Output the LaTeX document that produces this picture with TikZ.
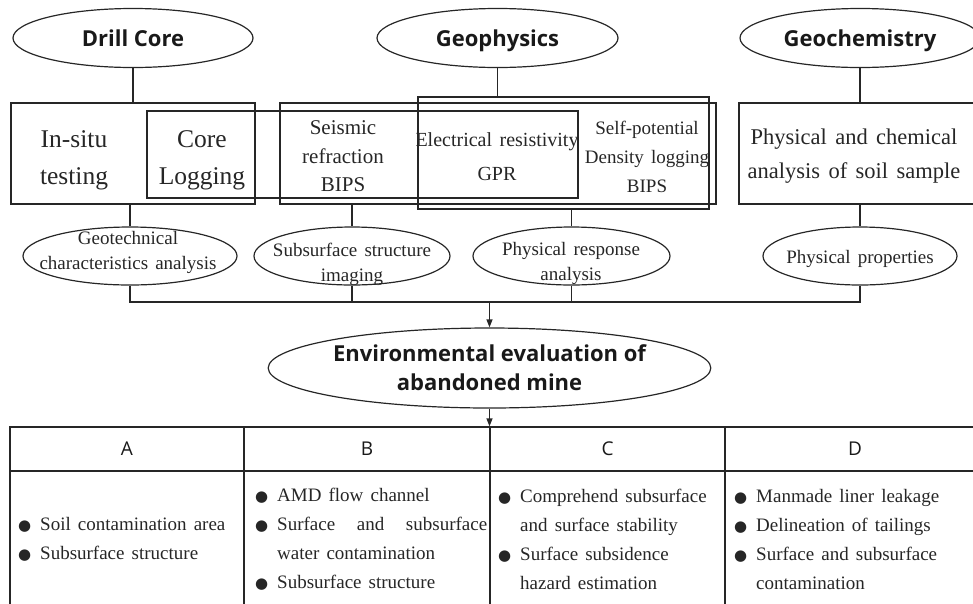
\documentclass[tikz,border=0pt]{standalone}
\usepackage{fontspec}
\setmainfont{Liberation Serif}[WordSpace=1.5]
\newfontfamily\hsans{Open Sans}
\newfontfamily\dejavu{DejaVu Sans}
\usetikzlibrary{shapes.geometric,arrows.meta}
\newcommand\tbul{\makebox[22pt][l]{{\fontsize{15pt}{15pt}\dejavu ●}}}
\newcommand\tind{\hspace*{22pt}}
\begin{document}
\begin{tikzpicture}[x=1pt,y=-1pt,
  ln/.style={line width=1.2pt, draw=black!85},
  box/.style={ln, rectangle, inner sep=0pt},
  oval/.style={ln, ellipse, inner sep=0pt},
  head/.style={font=\hsans\bfseries\fontsize{22pt}{29pt}\selectfont, align=center, text=black!90},
  tophead/.style={head, text height=20pt, text depth=4pt},
  hdr/.style={font=\hsans\fontsize{19pt}{22pt}\selectfont, text=black!90},
  txt/.style={align=center, inner sep=0pt, text=black!85},
  btxt/.style={align=left, inner sep=0pt, anchor=west, text=black!85, font=\fontsize{19pt}{29pt}\selectfont},
  arr/.style={ln, -{Triangle[length=8pt,width=6pt]}}]
\useasboundingbox (0,0) rectangle (973,603);
\clip (0,0) rectangle (973,603);
% top ellipses
\node[oval, tophead, minimum width=240pt, minimum height=59pt] (drill) at (133,38) {Drill Core};
\node[oval, tophead, minimum width=241pt, minimum height=59pt] (geoph) at (497.5,38) {Geophysics};
\node[oval, tophead, minimum width=240pt, minimum height=59pt] (geoch) at (860,38) {Geochemistry};
% boxes
\node[box, minimum width=244pt, minimum height=101pt] (insitubox) at (133,153.5) {};
\node[box, minimum width=431pt, minimum height=87pt] (logbox) at (362.5,154.5) {};
\node[box, minimum width=436pt, minimum height=101pt] (seisbox) at (498,153.5) {};
\node[box, minimum width=291pt, minimum height=112pt] (elecbox) at (563.5,153) {};
\node[box, minimum width=242pt, minimum height=101pt] (chembox) at (860,153.5) {};
% box texts
\node[txt, font=\fontsize{25.5pt}{37pt}\selectfont] (t1) at (74,160) {In-situ\\testing};
\node[txt, font=\fontsize{25.5pt}{37pt}\selectfont] (t2) at (202,160) {Core\\Logging};
\node[txt, font=\fontsize{21pt}{28.5pt}\selectfont] (t3) at (343,156.5) {Seismic\\refraction\\BIPS};
\node[txt, font=\fontsize{20pt}{34pt}\selectfont] (t4) at (497,157) {Electrical resistivity\\GPR};
\node[txt, font=\fontsize{19pt}{29pt}\selectfont] (t5) at (647,157) {Self-potential\\Density logging\\BIPS};
\node[txt, font=\fontsize{22.5pt}{34pt}\selectfont] (t6) at (854,156) {Physical and chemical\\analysis of soil sample};
% lower ellipses
\node[oval, minimum width=214pt, minimum height=58pt] (geot) at (130,256) {};
\node[oval, minimum width=196pt, minimum height=58pt] (sub) at (352,256) {};
\node[oval, minimum width=197pt, minimum height=58pt] (resp) at (571.5,256) {};
\node[oval, minimum width=194pt, minimum height=58pt] (props) at (860,256) {};
\node[txt, font=\fontsize{19pt}{25pt}\selectfont] (geott) at (128,252) {Geotechnical\\characteristics analysis};
\node[txt, font=\fontsize{19pt}{25pt}\selectfont] (subt) at (352,264) {Subsurface structure\\imaging};
\node[txt, font=\fontsize{19pt}{25pt}\selectfont] (respt) at (571,263) {Physical response\\analysis};
\node[txt, font=\fontsize{19pt}{25pt}\selectfont] (propst) at (860,259) {Physical properties};
% evaluation ellipse
\node[oval, head, minimum width=415pt, minimum height=80pt] (env) at (489.5,368) {Environmental evaluation of\\abandoned mine};
% table
\node[box, hdr, minimum width=234pt, minimum height=44pt] (hA) at (127,449) {A};
\node[box, hdr, minimum width=246pt, minimum height=44pt] (hB) at (367,449) {B};
\node[box, hdr, minimum width=235pt, minimum height=44pt] (hC) at (607.5,449) {C};
\node[box, hdr, minimum width=260pt, minimum height=44pt] (hD) at (855,449) {D};
\node[box, minimum width=234pt, minimum height=150pt] (bA) at (127,546) {};
\node[box, minimum width=246pt, minimum height=150pt] (bB) at (367,546) {};
\node[box, minimum width=235pt, minimum height=150pt] (bC) at (607.5,546) {};
\node[box, minimum width=260pt, minimum height=150pt] (bD) at (855,546) {};
\node[btxt] (tA) at (18,539) {\tbul Soil contamination area\\\tbul Subsurface structure};
\node[btxt] (tB) at (255,539) {\tbul AMD flow channel\\\tbul \makebox[210pt][s]{Surface\hfill and\hfill subsurface}\\\tind water contamination\\\tbul Subsurface structure};
\node[btxt] (tC) at (498,539) {\tbul Comprehend subsurface\\\tind and surface stability\\\tbul Surface subsidence\\\tind hazard estimation};
\node[btxt] (tD) at (734,539) {\tbul Manmade liner leakage\\\tbul Delineation of tailings\\\tbul Surface and subsurface\\\tind contamination};
% connectors
\draw[ln] (drill.south) -- (insitubox.north);
\draw[ln] (geoph.south) -- (geoph.south |- elecbox.north);
\draw[ln] (geoch.south) -- (chembox.north);
\draw[ln] (geot.north |- insitubox.south) -- (geot.north);
\draw[ln] (sub.north |- seisbox.south) -- (sub.north);
\draw[ln] (resp.north |- elecbox.south) -- (resp.north);
\draw[ln] (chembox.south) -- (props.north);
\coordinate (busL) at (130,302);
\draw[ln] (geot.south) -- (geot.south |- busL) -- (props.south |- busL) -- (props.south);
\draw[ln] (sub.south) -- (sub.south |- busL);
\draw[ln] (resp.south) -- (resp.south |- busL);
\draw[arr] (env.north |- busL) -- (env.north);
\draw[arr] (env.south) -- (env.south |- hC.north);
\end{tikzpicture}
\end{document}
